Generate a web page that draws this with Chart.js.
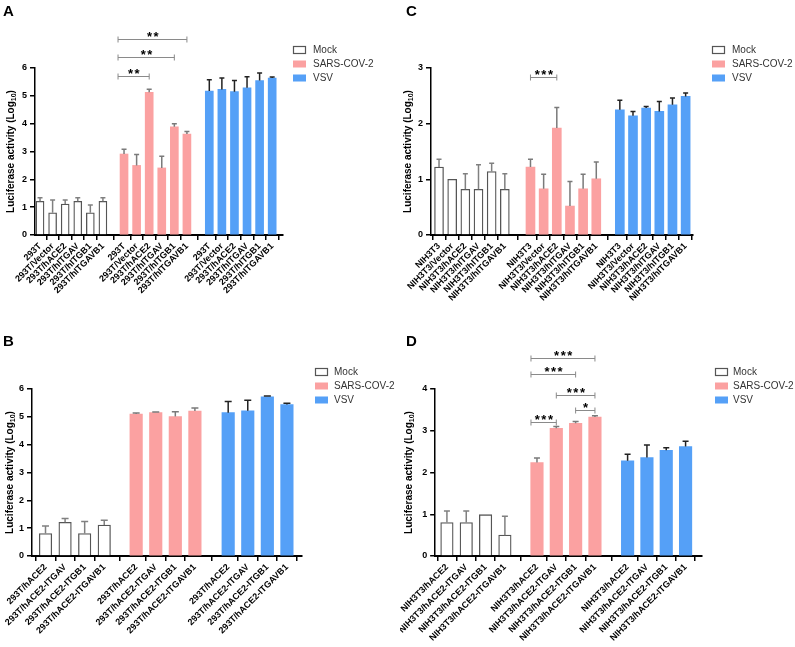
<!DOCTYPE html>
<html><head><meta charset="utf-8">
<script src="https://cdn.jsdelivr.net/npm/chart.js@4.4.0/dist/chart.umd.min.js"></script>
<style>
html,body{margin:0;padding:0;background:#fff;}
body{width:795px;height:647px;position:relative;overflow:hidden;font-family:"Liberation Sans",Arial,sans-serif;}
.panel{position:absolute;}
.panel canvas{display:block;}
.letter{position:absolute;font-weight:bold;font-size:15px;line-height:15px;color:#000;z-index:2;}
</style></head><body>
<div class="panel" style="left:0;top:0"><canvas id="cA" width="400" height="320"></canvas></div>
<div class="panel" style="left:400px;top:0"><canvas id="cC" width="395" height="320"></canvas></div>
<div class="panel" style="left:0;top:320px"><canvas id="cB" width="400" height="327"></canvas></div>
<div class="panel" style="left:400px;top:320px"><canvas id="cD" width="395" height="327"></canvas></div>
<div class="letter" style="left:3px;top:3px">A</div>
<div class="letter" style="left:406px;top:3px">C</div>
<div class="letter" style="left:3px;top:333px">B</div>
<div class="letter" style="left:406px;top:333px">D</div>
<script>
// ---------- data ----------
const seriesNames = ['Mock', 'SARS-COV-2', 'VSV'];
const yTitle = 'Luciferase activity (Log';
const yTitleSub = '10';

// Panel A
const labelsA = ['293T', '293T/Vector', '293T/hACE2', '293T/hITGAV', '293T/hITGB1', '293T/hITGAVB1'];
const mockA = [1.21, 0.80, 1.11, 1.21, 0.80, 1.21];
const mockSdA = [0.13, 0.46, 0.15, 0.13, 0.28, 0.13];
const sarsA = [2.91, 2.50, 5.13, 2.41, 3.89, 3.63];
const sarsSdA = [0.17, 0.39, 0.11, 0.42, 0.11, 0.09];
const vsvA = [5.17, 5.23, 5.15, 5.29, 5.55, 5.64];
const vsvSdA = [0.41, 0.41, 0.40, 0.40, 0.27, 0.04];
const bracketsA = [[0, 2, 5.70, '**'], [0, 4, 6.39, '**'], [0, 5, 7.04, '**']];

// Panel B
const labelsB = ['293T/hACE2', '293T/hACE2-ITGAV', '293T/hACE2-ITGB1', '293T/hACE2-ITGAVB1'];
const mockB = [0.81, 1.21, 0.81, 1.11];
const mockSdB = [0.27, 0.14, 0.43, 0.17];
const sarsB = [5.10, 5.15, 5.01, 5.21];
const sarsSdB = [0.04, 0.02, 0.17, 0.11];
const vsvB = [5.15, 5.22, 5.72, 5.44];
const vsvSdB = [0.40, 0.38, 0.03, 0.05];
const bracketsB = [];

// Panel C
const labelsC = ['NIH3T3', 'NIH3T3/Vector', 'NIH3T3/hACE2', 'NIH3T3/hITGAV', 'NIH3T3/hITGB1', 'NIH3T3/hITGAVB1'];
const mockC = [1.22, 1.00, 0.82, 0.82, 1.14, 0.82];
const mockSdC = [0.14, 0, 0.28, 0.44, 0.15, 0.28];
const sarsC = [1.22, 0.83, 1.92, 0.52, 0.83, 1.01];
const sarsSdC = [0.14, 0.26, 0.37, 0.44, 0.26, 0.30];
const vsvC = [2.25, 2.14, 2.28, 2.22, 2.34, 2.49];
const vsvSdC = [0.17, 0.08, 0.03, 0.18, 0.12, 0.06];
const bracketsC = [[0, 2, 2.84, '***']];

// Panel D
const labelsD = ['NIH3T3/hACE2', 'NIH3T3/hACE2-ITGAV', 'NIH3T3/hACE2-ITGB1', 'NIH3T3/hACE2-ITGAVB1'];
const mockD = [0.80, 0.80, 0.99, 0.50];
const mockSdD = [0.28, 0.28, 0, 0.45];
const sarsD = [2.24, 3.06, 3.18, 3.33];
const sarsSdD = [0.11, 0.04, 0.04, 0.03];
const vsvD = [2.28, 2.36, 2.53, 2.62];
const vsvSdD = [0.16, 0.30, 0.06, 0.13];
const bracketsD = [[0, 1, 3.20, '***'], [2, 3, 3.49, '*'], [1, 3, 3.86, '***'], [0, 2, 4.36, '***'], [0, 3, 4.75, '***']];

// ---------- style ----------
const FONT = '"Liberation Sans", Arial, sans-serif';
const fills = ['#ffffff', '#FBA1A1', '#55A0F7'];
const borders = ['#555555', '#FBA1A1', '#55A0F7'];
const errColors = ['#808080', '#7a7a7a', '#222222'];

function buildPanel(id, d, L) {
  const n = d.labels.length;
  const series = [d.mock, d.sars, d.vsv];
  const sds = [d.mockSd, d.sarsSd, d.vsvSd];
  const positions = [];
  const tickLabels = [];
  for (let g = 0; g < 3; g++) for (let i = 0; i < n; i++) { positions.push(L.offsets[g] + i); tickLabels.push(d.labels[i]); }
  const datasets = series.map((vals, g) => ({
    label: seriesNames[g],
    data: vals.map((v, i) => ({ x: L.offsets[g] + i, y: v })),
    sd: sds[g],
    backgroundColor: fills[g],
    borderColor: borders[g],
    borderWidth: g === 0 ? 1.3 : 0,
    borderSkipped: 'start',
    barThickness: L.barW,
    grouped: false
  }));

  const decor = {
    id: 'decor_' + id,
    afterDatasetsDraw(chart) {
      const ctx = chart.ctx, ys = chart.scales.y;
      chart.data.datasets.forEach((ds, di) => {
        const meta = chart.getDatasetMeta(di);
        ctx.save();
        ctx.strokeStyle = errColors[di];
        ctx.lineWidth = 1.5;
        meta.data.forEach((bar, i) => {
          const sd = ds.sd[i];
          if (!sd) return;
          const top = ys.getPixelForValue(ds.data[i].y + sd);
          ctx.beginPath();
          ctx.moveTo(bar.x, bar.y); ctx.lineTo(bar.x, top);
          ctx.moveTo(bar.x - L.cap, top); ctx.lineTo(bar.x + L.cap, top);
          ctx.stroke();
        });
        ctx.restore();
      });
    },
    afterDraw(chart) {
      const ctx = chart.ctx, ys = chart.scales.y, area = chart.chartArea;
      // significance brackets
      const meta = chart.getDatasetMeta(1);
      d.brackets.forEach(([a, b, yv, lab]) => {
        const x1 = meta.data[a].x - (a === 0 ? L.bracketLeftPad : 0);
        const x2 = meta.data[b].x;
        const y = Math.round(ys.getPixelForValue(yv)) + 0.5;
        ctx.save();
        ctx.strokeStyle = '#8a8a8a';
        ctx.lineWidth = 1;
        ctx.beginPath();
        ctx.moveTo(x1, y); ctx.lineTo(x2, y);
        ctx.moveTo(x1, y - 3); ctx.lineTo(x1, y + 3);
        ctx.moveTo(x2, y - 3); ctx.lineTo(x2, y + 3);
        ctx.stroke();
        ctx.fillStyle = '#000';
        ctx.font = 'bold 13px ' + FONT;
        if ('letterSpacing' in ctx) ctx.letterSpacing = '1.5px';
        ctx.textAlign = 'center';
        ctx.textBaseline = 'alphabetic';
        ctx.fillText(lab, (x1 + x2) / 2 + 1, y + 1);
        ctx.restore();
      });
      // y axis title with subscript
      ctx.save();
      ctx.translate(L.titleX, (area.top + area.bottom) / 2);
      ctx.rotate(-Math.PI / 2);
      ctx.fillStyle = '#000';
      ctx.textBaseline = 'middle';
      ctx.textAlign = 'left';
      const f1 = 'bold 10px ' + FONT, f2 = 'bold 7px ' + FONT;
      ctx.font = f1; const w1 = ctx.measureText(yTitle).width; const w3 = ctx.measureText(')').width;
      ctx.font = f2; const w2 = ctx.measureText(yTitleSub).width;
      let x = -(w1 + w2 + w3) / 2;
      ctx.font = f1; ctx.fillText(yTitle, x, 0); x += w1;
      ctx.font = f2; ctx.fillText(yTitleSub, x, 3); x += w2;
      ctx.font = f1; ctx.fillText(')', x, 0);
      ctx.restore();
      // legend
      ctx.save();
      chart.data.datasets.forEach((ds, di) => {
        const ry = L.legendRows[di];
        ctx.fillStyle = fills[di];
        ctx.fillRect(L.legendBoxX, ry - 3.5, 13, 7);
        if (di === 0) {
          ctx.strokeStyle = '#555';
          ctx.lineWidth = 1.2;
          ctx.strokeRect(L.legendBoxX + 0.5, ry - 3.5, 12, 7);
        }
        ctx.fillStyle = '#333';
        ctx.font = '10px ' + FONT;
        ctx.textAlign = 'left';
        ctx.textBaseline = 'middle';
        ctx.fillText(ds.label, L.legendTextX, ry);
      });
      ctx.restore();
    }
  };

  const canvas = document.getElementById(id);
  return new Chart(canvas, {
    type: 'bar',
    data: { datasets },
    options: {
      responsive: false,
      animation: false,
      devicePixelRatio: 1,
      layout: { padding: { left: 0, top: L.top, right: canvas.width - L.right, bottom: 0 } },
      plugins: { legend: { display: false }, tooltip: { enabled: false } },
      scales: {
        x: {
          type: 'linear',
          min: L.xMin, max: L.xMax,
          offset: false,
          afterBuildTicks: (scale) => { scale.ticks = positions.map(v => ({ value: v })); },
          afterFit: (scale) => { scale.height = canvas.height - L.bottom; },
          ticks: {
            autoSkip: false, minRotation: 45, maxRotation: 45, padding: 1,
            color: '#000', font: { family: FONT, size: 9, weight: 'bold' },
            callback: (v, i) => tickLabels[i]
          },
          grid: { display: true, drawOnChartArea: false, drawTicks: true, tickLength: 5, color: '#000', lineWidth: 1.5 },
          border: { display: true, color: '#000', width: 2 }
        },
        y: {
          type: 'linear',
          min: 0, max: L.yMax,
          afterFit: (scale) => { scale.width = L.left; },
          ticks: { stepSize: 1, padding: 3, color: '#000', font: { family: FONT, size: 9, weight: 'bold' } },
          grid: { display: true, drawOnChartArea: false, drawTicks: true, tickLength: 5, color: '#000', lineWidth: 1.5 },
          border: { display: true, color: '#000', width: 1.5 }
        }
      }
    },
    plugins: [decor]
  });
}

buildPanel('cA',
  { labels: labelsA, mock: mockA, mockSd: mockSdA, sars: sarsA, sarsSd: sarsSdA, vsv: vsvA, vsvSd: vsvSdA, brackets: bracketsA },
  { left: 35, top: 68, bottom: 235, right: 283, xMin: -0.40, xMax: 19.32, offsets: [0, 6.68, 13.46], barW: 8, cap: 2.5,
    yMax: 6, titleX: 11, legendBoxX: 293, legendTextX: 313, legendRows: [50, 64, 78], bracketLeftPad: 6 });

buildPanel('cC',
  { labels: labelsC, mock: mockC, mockSd: mockSdC, sars: sarsC, sarsSd: sarsSdC, vsv: vsvC, vsvSd: vsvSdC, brackets: bracketsC },
  { left: 31, top: 68, bottom: 235, right: 293, xMin: -0.61, xMax: 19.3, offsets: [0, 6.95, 13.74], barW: 9, cap: 2.5,
    yMax: 3, titleX: 8, legendBoxX: 312, legendTextX: 332, legendRows: [50, 64, 78], bracketLeftPad: 0 });

buildPanel('cB',
  { labels: labelsB, mock: mockB, mockSd: mockSdB, sars: sarsB, sarsSd: sarsSdB, vsv: vsvB, vsvSd: vsvSdB, brackets: bracketsB },
  { left: 32, top: 69, bottom: 236, right: 302, xMin: -0.69, xMax: 13.1, offsets: [0, 4.63, 9.33], barW: 12.5, cap: 3.5,
    yMax: 6, titleX: 10, legendBoxX: 315, legendTextX: 334, legendRows: [52, 66, 80], bracketLeftPad: 0 });

buildPanel('cD',
  { labels: labelsD, mock: mockD, mockSd: mockSdD, sars: sarsD, sarsSd: sarsSdD, vsv: vsvD, vsvSd: vsvSdD, brackets: bracketsD },
  { left: 31, top: 69, bottom: 236, right: 302, xMin: -0.61, xMax: 13.2, offsets: [0, 4.66, 9.35], barW: 12.5, cap: 3,
    yMax: 4, titleX: 9, legendBoxX: 315, legendTextX: 333, legendRows: [52, 66, 80], bracketLeftPad: 6 });
</script>
</body></html>
